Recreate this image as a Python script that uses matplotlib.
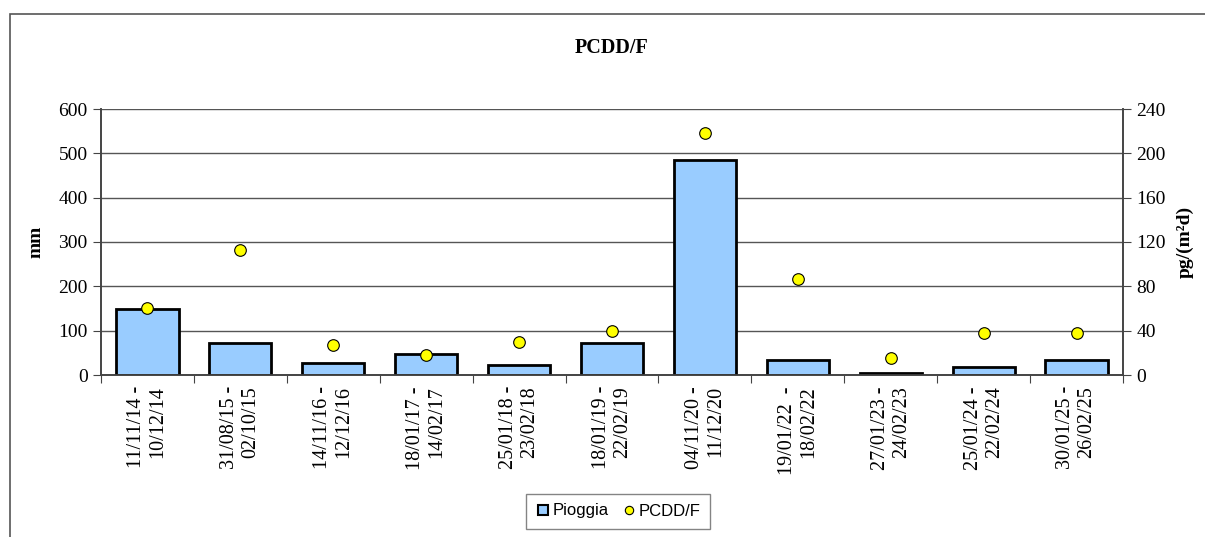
import matplotlib.pyplot as plt
from matplotlib.patches import Rectangle
from matplotlib.lines import Line2D
import numpy as np

# data
periods = ["11/11/14 -\n10/12/14", "31/08/15 -\n02/10/15", "14/11/16 -\n12/12/16",
           "18/01/17 -\n14/02/17", "25/01/18 -\n23/02/18", "18/01/19 -\n22/02/19",
           "04/11/20 -\n11/12/20", "19/01/22  -\n18/02/22", "27/01/23 -\n24/02/23",
           "25/01/24 -\n22/02/24", "30/01/25 -\n26/02/25"]
pioggia = [150, 73, 27, 47, 23, 73, 485, 34, 4, 18, 34]
pcdd = [60.5, 113, 27, 18, 30, 40, 218, 87, 15, 38, 38]

plt.rcParams['font.family'] = ['Liberation Serif', 'DejaVu Serif']

fig = plt.figure(figsize=(12.05, 5.37), dpi=100)
ax = fig.add_axes([101 / 1205, 1 - 375 / 537, (1123 - 101) / 1205, (375 - 109) / 537])
ax2 = ax.twinx()

x = np.arange(len(periods))
ax.bar(x, pioggia, width=0.67, color='#99ccff', edgecolor='black', linewidth=2, zorder=3)
ax2.scatter(x, pcdd, s=70, color='yellow', edgecolor='black', linewidth=0.8, zorder=5)

ax.set_xlim(-0.5, len(periods) - 0.5)
ax.set_ylim(0, 600)
ax.set_yticks(range(0, 601, 100))
ax2.set_ylim(0, 240)
ax2.set_yticks(range(0, 241, 40))
ax.yaxis.grid(True, color='#555555', linewidth=1, zorder=0)
ax.set_axisbelow(True)

ax.set_xticks(np.arange(-0.5, len(periods), 1), minor=False)
ax.set_xticklabels([])
ax.set_xticks(x, minor=True)
ax.set_xticklabels(periods, minor=True, rotation=90, fontsize=14.5, va='top', ha='center',
                   multialignment='right', linespacing=1.15)
ax.tick_params(axis='x', which='major', length=6, direction='out', color='#444444')
ax.tick_params(axis='x', which='minor', length=0, pad=8)
ax.tick_params(axis='y', labelsize=14, length=6, direction='out', color='#444444')
ax2.tick_params(axis='y', labelsize=14, length=6, direction='out', color='#444444')

for a in (ax, ax2):
    a.spines['top'].set_visible(False)
    for s in ('left', 'right', 'bottom'):
        a.spines[s].set_color('#444444')
        a.spines[s].set_linewidth(1.2)

ax.set_ylabel("mm", fontsize=14, fontweight='bold', labelpad=10)
ax2.set_ylabel("pg/(m²d)", fontsize=14, fontweight='bold', labelpad=8)
ax.set_title("PCDD/F", fontsize=14.5, fontweight='bold', pad=40)

# legend
handles = [
    Line2D([], [], marker='s', linestyle='none', markerfacecolor='#99ccff',
           markeredgecolor='black', markeredgewidth=1.5, markersize=7),
    Line2D([], [], marker='o', linestyle='none', markerfacecolor='yellow',
           markeredgecolor='black', markeredgewidth=0.8, markersize=6),
]
leg = fig.legend(handles, ["Pioggia", "PCDD/F"], loc='center',
                 bbox_to_anchor=(618 / 1205, 1 - 511 / 537), ncol=2, frameon=True,
                 fancybox=False, edgecolor='#666666', handletextpad=0.1,
                 columnspacing=0.8, handlelength=0.9, borderpad=0.6,
                 prop={'family': 'Liberation Sans', 'size': 12})
leg.get_frame().set_linewidth(1)

# outer chart frame
fig.patches.append(Rectangle((10 / 1205, -0.1), 1.2, 0.1 + 1 - 14 / 537,
                             transform=fig.transFigure, fill=False,
                             edgecolor='#555555', linewidth=1.2))

fig.savefig("out.png", dpi=100)
